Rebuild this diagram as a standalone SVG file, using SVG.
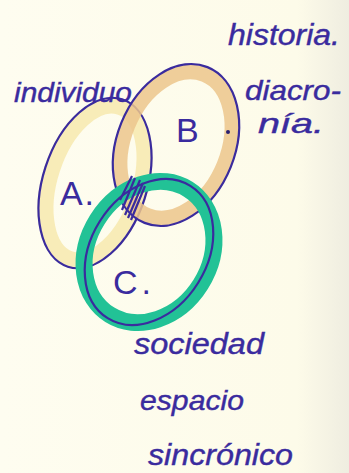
<svg xmlns="http://www.w3.org/2000/svg" width="349" height="473" viewBox="0 0 349 473">
<defs>
<linearGradient id="paper" x1="0" y1="0" x2="1" y2="0">
<stop offset="0" stop-color="#fefdf0"/>
<stop offset="0.85" stop-color="#fdfbe9"/>
<stop offset="1" stop-color="#efede0"/>
</linearGradient>
<style>
.ink{fill:none;stroke:#3a2b9e;stroke-width:2.2}
.t{font-family:"Liberation Sans",Arial,sans-serif;font-style:italic;fill:#3a2b9e;stroke:#3a2b9e;stroke-width:0.4}
.lbl{font-family:"Liberation Sans",Arial,sans-serif;fill:#3a2b9e}
</style>
</defs>
<rect width="349" height="473" fill="url(#paper)"/>
<g id="A">
<ellipse cx="95" cy="183" rx="45" ry="80" transform="rotate(18 95 183)" fill="none" stroke="#f8ecb8" stroke-width="16"/>
<ellipse cx="95" cy="183" rx="52" ry="88" transform="rotate(18 95 183)" class="ink"/>
<text class="lbl" x="60" y="205" font-size="34" textLength="34">A.</text>
</g>
<g id="B">
<ellipse cx="176" cy="145" rx="52" ry="76" transform="rotate(22 176 145)" fill="none" stroke="#ecc58c" stroke-width="15" opacity="0.85"/>
<ellipse cx="176" cy="145" rx="59" ry="84" transform="rotate(22 176 145)" class="ink"/>
<text class="lbl" x="176" y="142" font-size="34" textLength="30">B</text>
<circle cx="228" cy="132" r="2" fill="#2a1f70"/>
</g>
<g id="C">
<ellipse cx="149" cy="252" rx="61" ry="74" transform="rotate(32 149 252)" fill="none" stroke="#22c296" stroke-width="17"/>
<ellipse cx="149" cy="252" rx="58" ry="78" transform="rotate(32 149 252)" class="ink"/>
<text class="lbl" x="113" y="294" font-size="34" textLength="38">C.</text>
</g>
<g id="hatch" class="ink" stroke-width="1.6">
<path d="M122 210 L135 178 M125 215 L140 180 M128 218 L143 183 M131 220 L145 186 M120 200 L132 176"/>
</g>
<g id="labels">
<text class="t" x="228" y="45" font-size="30" textLength="112" lengthAdjust="spacingAndGlyphs">historia.</text>
<text class="t" x="14" y="102" font-size="28" textLength="118" lengthAdjust="spacingAndGlyphs">individuo</text>
<text class="t" x="245" y="100" font-size="28" textLength="96" lengthAdjust="spacingAndGlyphs">diacro-</text>
<text class="t" x="258" y="133" font-size="28" textLength="66" lengthAdjust="spacingAndGlyphs">nía.</text>
<text class="t" x="134" y="354" font-size="30" textLength="130" lengthAdjust="spacingAndGlyphs">sociedad</text>
<text class="t" x="140" y="410" font-size="28" textLength="104" lengthAdjust="spacingAndGlyphs">espacio</text>
<text class="t" x="148" y="465" font-size="30" textLength="145" lengthAdjust="spacingAndGlyphs">sincrónico</text>
</g>
</svg>
